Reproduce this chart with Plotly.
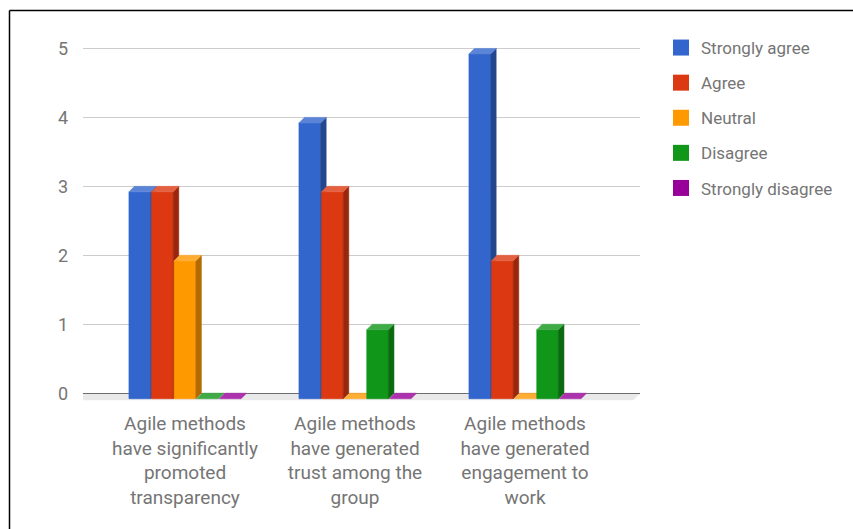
import plotly.graph_objects as go

# ---- data ----
categories = [
    "Agile methods<br>have significantly<br>promoted<br>transparency",
    "Agile methods<br>have generated<br>trust among the<br>group",
    "Agile methods<br>have generated<br>engagement to<br>work",
]
series_names = ["Strongly agree", "Agree", "Neutral", "Disagree", "Strongly disagree"]
series_colors = ["#3366cc", "#dc3912", "#ff9900", "#109618", "#990099"]

strongly_agree = [3, 4, 5]
agree = [3, 3, 2]
neutral = [2, 0, 0]
disagree = [0, 1, 1]
strongly_disagree = [0, 0, 0]
series_values = [strongly_agree, agree, neutral, disagree, strongly_disagree]

y_ticks = [0, 1, 2, 3, 4, 5]

# ---- geometry (pixels -> data units) ----
W, H = 853, 529
M_L, M_R, M_T, M_B = 83, 213, 45, 122
PX_PER_CAT = 170.0
Y_RANGE = [-0.2, 5.05]
plot_w = W - M_L - M_R
plot_h = H - M_T - M_B
px_per_unit = plot_h / (Y_RANGE[1] - Y_RANGE[0])
X_RANGE = [-0.6, -0.6 + plot_w / PX_PER_CAT]

slot = 22.6 / PX_PER_CAT      # distance between neighbouring bars in a group
bar_w = 21.7 / PX_PER_CAT     # width of a bar's front face
dx = 5.5 / PX_PER_CAT         # 3D depth, horizontal
dy = 5.5 / px_per_unit        # 3D depth, vertical
floor_dx = 7.0 / PX_PER_CAT
floor_dy = 7.0 / px_per_unit

TEXT = "#757575"
FONT = "Roboto"


def shade(hex_color, f):
    """f < 1 darkens toward black, f > 1 lightens toward white."""
    r, g, b = (int(hex_color[i:i + 2], 16) for i in (1, 3, 5))
    if f <= 1:
        r, g, b = (int(c * f) for c in (r, g, b))
    else:
        t = f - 1
        r, g, b = (int(c + (255 - c) * t) for c in (r, g, b))
    return f"rgb({r},{g},{b})"


fig = go.Figure()

# floor of the 3D plot under the baseline
xl, xr = X_RANGE
ftop = -0.5 / px_per_unit
fig.add_trace(go.Scatter(
    x=[xl, xr, xr - floor_dx, xl - floor_dx, xl],
    y=[ftop, ftop, -floor_dy, -floor_dy, ftop],
    fill="toself", fillcolor="#e9e9e9", mode="lines", line=dict(width=0),
    hoverinfo="skip", showlegend=False,
))

# 3D bars: front, right side and top faces per series
n = len(series_names)
for k, (name, color, vals) in enumerate(zip(series_names, series_colors, series_values)):
    fx, fy, sx, sy, tx, ty = [], [], [], [], [], []
    for i, v in enumerate(vals):
        xc = i + (k - (n - 1) / 2) * slot
        x0 = xc - bar_w / 2
        x1 = xc + bar_w / 2
        if v > 0:
            fx += [x0, x1, x1, x0, x0, None]
            fy += [-dy, -dy, v - dy, v - dy, -dy, None]
            sx += [x1, x1 + dx, x1 + dx, x1, x1, None]
            sy += [-dy, 0, v, v - dy, -dy, None]
        tx += [x0, x1, x1 + dx, x0 + dx, x0, None]
        ty += [v - dy, v - dy, v, v, v - dy, None]
    for xs, ys, fc in ((fx, fy, color), (sx, sy, shade(color, 0.7)), (tx, ty, shade(color, 1.2))):
        if xs:
            fig.add_trace(go.Scatter(
                x=xs, y=ys, fill="toself", fillcolor=fc, mode="lines",
                line=dict(width=0.6, color=fc), hoverinfo="skip", showlegend=False,
            ))

# legend entries
for name, color in zip(series_names, series_colors):
    fig.add_trace(go.Scatter(
        x=[None], y=[None], mode="markers", name=name, legendgroup=name,
        marker=dict(symbol="square", size=16, color=color),
    ))


def to_paper_x(px):
    return (px - M_L) / plot_w


def to_paper_y(py):
    return 1 - (py - M_T) / plot_h


fig.update_layout(
    width=W, height=H,
    margin=dict(l=M_L, r=M_R, t=M_T, b=M_B, autoexpand=False),
    paper_bgcolor="white", plot_bgcolor="white",
    font=dict(family=FONT, color=TEXT),
    xaxis=dict(
        range=X_RANGE, tickmode="array", tickvals=list(range(len(categories))),
        ticktext=categories, showgrid=False, zeroline=False, showline=False,
        ticks="", ticklabelstandoff=3, tickfont=dict(size=19, color=TEXT), fixedrange=True,
    ),
    yaxis=dict(
        range=Y_RANGE, tickmode="array", tickvals=y_ticks,
        showgrid=True, gridcolor="#cccccc", gridwidth=1,
        zeroline=True, zerolinecolor="#444444", zerolinewidth=1,
        showline=False, ticks="", ticklabelstandoff=14,
        tickfont=dict(size=18, color=TEXT), fixedrange=True,
    ),
    legend=dict(
        xref="container", yref="container",
        x=661 / W, y=1 - 30 / H, xanchor="left", yanchor="top",
        font=dict(size=17, color=TEXT), tracegroupgap=10,
        bgcolor="rgba(0,0,0,0)",
    ),
    shapes=[
        dict(type="line", xref="paper", yref="paper",
             x0=to_paper_x(9.5), x1=to_paper_x(W), y0=to_paper_y(10.5), y1=to_paper_y(10.5),
             line=dict(color="black", width=1.5)),
        dict(type="line", xref="paper", yref="paper",
             x0=to_paper_x(9.5), x1=to_paper_x(9.5), y0=to_paper_y(10.5), y1=to_paper_y(H),
             line=dict(color="black", width=1.5)),
    ],
)

fig.write_html("out.html")
